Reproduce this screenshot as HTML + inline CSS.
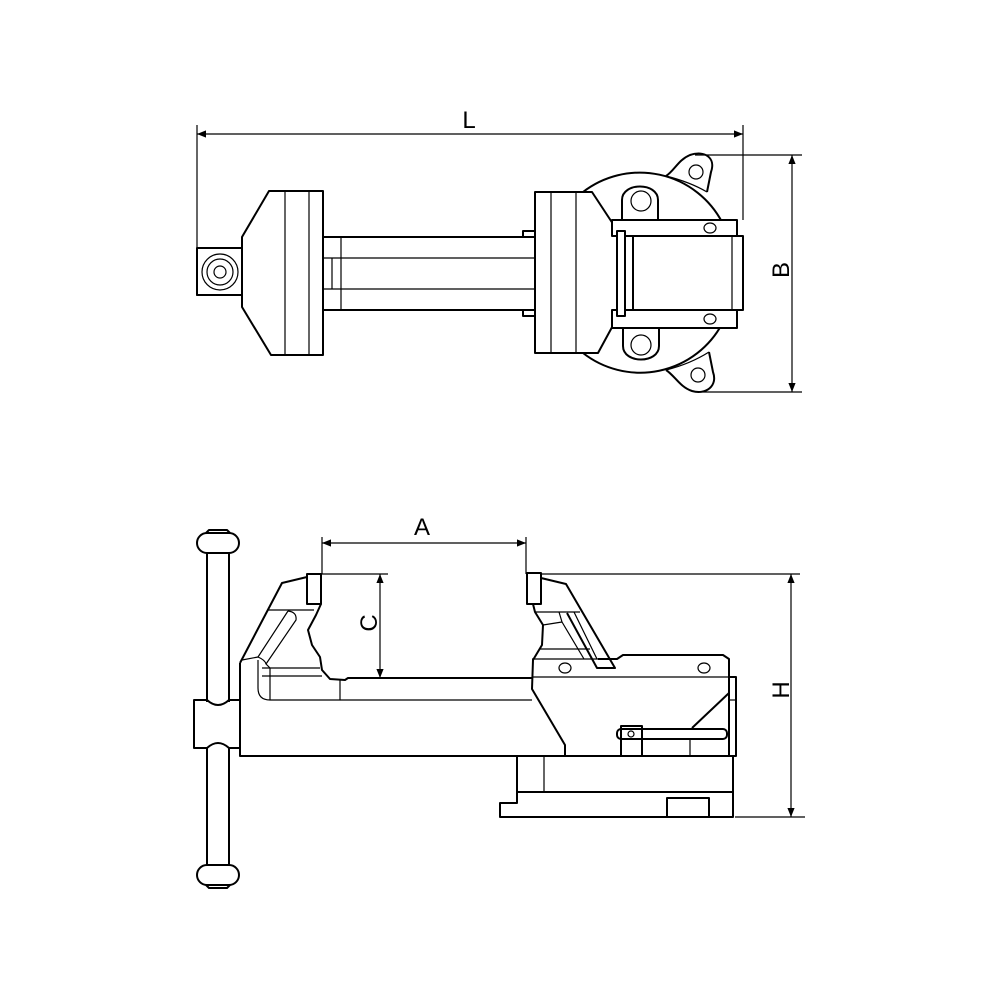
<!DOCTYPE html>
<html><head><meta charset="utf-8"><style>
html,body{margin:0;padding:0;background:#fff}
svg{display:block}
text{font-family:"Liberation Sans",sans-serif;font-size:24px;fill:#000}
</style></head><body>
<svg width="1000" height="1000" viewBox="0 0 1000 1000" xmlns="http://www.w3.org/2000/svg">
<defs>
<marker id="ar" viewBox="0 0 10 10" refX="10" refY="5" markerWidth="15" markerHeight="9" markerUnits="userSpaceOnUse" orient="auto-start-reverse">
<path d="M0,1 L10,5 L0,9 z" fill="#000"/></marker>
</defs>
<g fill="none" stroke="#000" stroke-linejoin="round">
<!-- ===== TOP VIEW ===== -->
<g stroke-width="1.2">
<line x1="197" y1="125" x2="197" y2="296"/>
<line x1="743" y1="125" x2="743" y2="220"/>
<line x1="197" y1="134" x2="743" y2="134" marker-start="url(#ar)" marker-end="url(#ar)"/>
<line x1="695" y1="155" x2="802" y2="155"/>
<line x1="700" y1="392" x2="802" y2="392"/>
<line x1="792" y1="155" x2="792" y2="392" marker-start="url(#ar)" marker-end="url(#ar)"/>
</g>
<g stroke-width="2">
<rect x="197" y="248" width="45" height="47"/>
<polygon points="242,237 269,191 323,191 323,355 271,355 242,307"/>
<rect x="323" y="237" width="212" height="73"/>
<rect x="523" y="231" width="12" height="6"/>
<rect x="523" y="310" width="12" height="6"/>
<path d="M583,192 A93,93 0 0 1 722,222"/>
<path d="M583,353 A93,93 0 0 0 722,324"/>
<path d="M666,176 C675,170 678,160 690,155 C705,150 716,158 711,172 L707,192"/>
<path d="M666,370 C675,376 680,387 692,391 C706,395 718,386 713,372 L709,352"/>
<path d="M622,220 L622,200 C622,182 658,182 658,200 L658,220"/>
<path d="M623,326 L623,346 C623,364 659,364 659,346 L659,326"/>
<polygon points="535,192 592,192 617,230 617,318 598,353 535,353" fill="#fff"/>
<rect x="612" y="220" width="125" height="16" fill="#fff"/>
<rect x="612" y="310" width="125" height="18" fill="#fff"/>
<rect x="617" y="231" width="8" height="85" fill="#fff"/>
<rect x="625" y="236" width="118" height="74" fill="#fff"/>
<line x1="633" y1="236" x2="633" y2="310"/>
</g>
<g stroke-width="1.2">
<circle cx="220" cy="272" r="18"/><circle cx="220" cy="272" r="13"/><circle cx="220" cy="272" r="6"/>
<line x1="285" y1="191" x2="285" y2="355"/>
<line x1="309" y1="191" x2="309" y2="355"/>
<line x1="323" y1="258" x2="535" y2="258"/>
<line x1="323" y1="289" x2="535" y2="289"/>
<line x1="341" y1="237" x2="341" y2="310"/>
<line x1="332" y1="258" x2="332" y2="289"/>
<line x1="551" y1="192" x2="551" y2="353"/>
<line x1="576" y1="192" x2="576" y2="353"/>
<line x1="732" y1="236" x2="732" y2="310"/>
<circle cx="641" cy="201" r="10"/><circle cx="641" cy="345" r="10"/>
<circle cx="696" cy="172" r="7"/><circle cx="698" cy="375" r="7"/>
<ellipse cx="710" cy="228" rx="6" ry="5"/><ellipse cx="710" cy="319" rx="6" ry="5"/>
<path d="M666,176 Q690,182 707,192"/>
<path d="M666,370 Q690,364 709,352"/>
</g>
<!-- ===== SIDE VIEW ===== -->
<g stroke-width="1.2">
<line x1="322" y1="537" x2="322" y2="574"/>
<line x1="526" y1="537" x2="526" y2="574"/>
<line x1="322" y1="543" x2="526" y2="543" marker-start="url(#ar)" marker-end="url(#ar)"/>
<line x1="322" y1="574" x2="388" y2="574"/>
<line x1="380" y1="574" x2="380" y2="678" marker-start="url(#ar)" marker-end="url(#ar)"/>
<line x1="541" y1="574" x2="800" y2="574"/>
<line x1="735" y1="817" x2="805" y2="817"/>
<line x1="791" y1="574" x2="791" y2="817" marker-start="url(#ar)" marker-end="url(#ar)"/>
</g>
<g stroke-width="2">
<path d="M207,553 L207,702 M229,553 L229,702 M207,748 L207,865 M229,748 L229,865"/>
<rect x="197" y="533" width="42" height="20" rx="10"/>
<path d="M206,533 L209,530 L227,530 L230,533"/>
<rect x="197" y="865" width="42" height="20" rx="10"/>
<path d="M206,885 L209,888 L227,888 L230,885"/>
<path d="M194,700 L207,700 Q218,710 229,700 L240,700 L240,748 L229,748 Q218,738 207,748 L194,748 Z"/>
<path d="M240,663 L282,583 L307,577"/>
<rect x="307" y="574" width="14" height="30"/>
<path d="M321,604 L316,615 L308,630 L312,645 L320,657 L322,670 L330,679 L345,680 L348,678 L532,678"/>
<path d="M240,663 L240,756 L736,756"/>
<rect x="527" y="573" width="14" height="31"/>
<path d="M541,578 L566,584 L615,668 L597,668 L567,613"/>
<path d="M533,604 L535,612 L543,625 L542,645 L533,660 L532,689 L565,745 L565,756"/>
<path d="M598,659 L617,659 L623,655 L723,655 L729,659 L729,693 L692,728"/>
<rect x="729" y="677" width="7" height="79"/>
<rect x="617" y="729" width="110" height="10" rx="4" fill="#fff"/>
<path d="M621,756 L621,726 L642,726 L642,756"/>
<path d="M517,756 L517,792 L733,792 L733,756"/>
<path d="M517,792 L517,803 L500,803 L500,817 L733,817 L733,792"/>
<path d="M667,817 L667,798 L709,798 L709,817"/>
</g>
<g stroke-width="1.2">
<path d="M268,610 L314,610"/>
<path d="M288,611 Q297,612 296,620 L266,664 M288,611 L258,657"/>
<path d="M262,668 L320,668 M262,676 L322,676"/>
<path d="M242,660 L258,657 Q265,660 266,664 L270,668"/>
<path d="M258,660 L258,688 Q258,700 270,700 L340,700 L340,680"/>
<line x1="270" y1="668" x2="270" y2="700"/>
<line x1="340" y1="700" x2="532" y2="700"/>
<line x1="535" y1="612" x2="580" y2="612"/>
<path d="M559,612 L562,622 L543,625 M562,622 L584,659 M574,612 L597,659"/>
<line x1="540" y1="649" x2="590" y2="649"/>
<line x1="532" y1="659" x2="598" y2="659"/>
<line x1="532" y1="677" x2="729" y2="677"/>
<line x1="729" y1="700" x2="736" y2="700"/>
<line x1="690" y1="739" x2="690" y2="756"/>
<line x1="544" y1="756" x2="544" y2="792"/>
<circle cx="631" cy="734" r="3"/>
<ellipse cx="565" cy="668" rx="6" ry="5"/>
<ellipse cx="704" cy="668" rx="6" ry="5"/>
</g>
</g>
<text x="469" y="128" text-anchor="middle">L</text>
<text x="422" y="535" text-anchor="middle">A</text>
<text transform="translate(789,270) rotate(-90)" text-anchor="middle">B</text>
<text transform="translate(377,623) rotate(-90)" text-anchor="middle">C</text>
<text transform="translate(789,690) rotate(-90)" text-anchor="middle">H</text>
</svg>
</body></html>
